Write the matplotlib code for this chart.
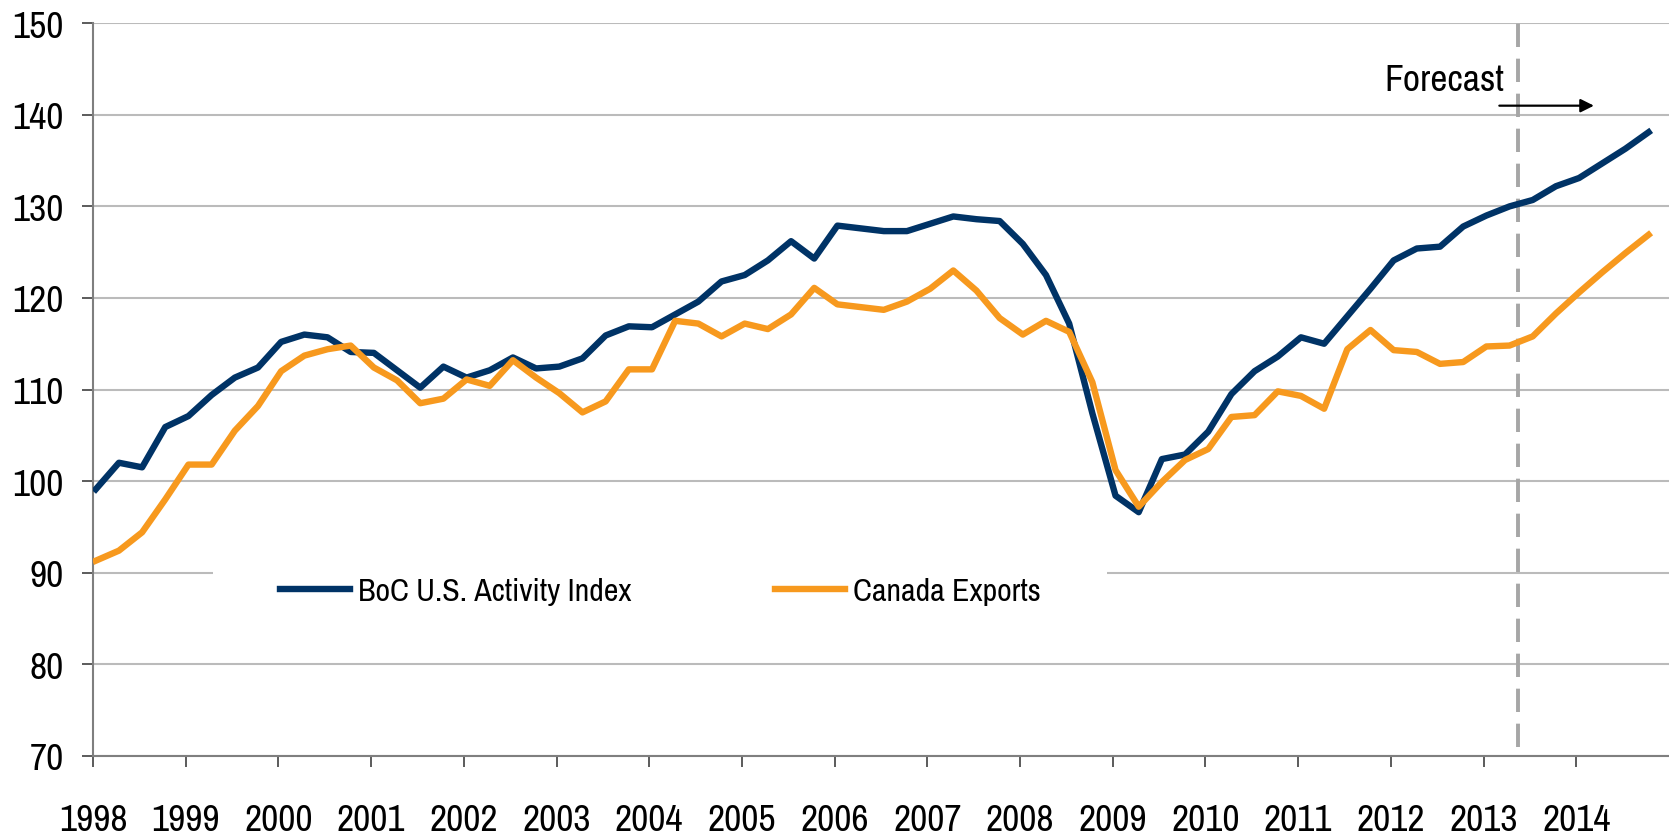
import numpy as np
import matplotlib
matplotlib.use("Agg")
import matplotlib.pyplot as plt
from matplotlib import font_manager
from matplotlib.patches import Rectangle

# quarterly values, 1998Q1 .. 2014Q4
years = list(range(1998, 2015))
boc_us_activity = [
    99.1, 102.0, 101.5, 105.9, 107.1, 109.4, 111.3, 112.4,
    115.2, 116.0, 115.7, 114.1, 114.0, 112.1, 110.2, 112.5,
    111.3, 112.1, 113.5, 112.3, 112.5, 113.4, 115.9, 116.9,
    116.8, 118.2, 119.6, 121.8, 122.5, 124.1, 126.2, 124.3,
    127.9, 127.6, 127.3, 127.3, 128.1, 128.9, 128.6, 128.4,
    125.9, 122.5, 117.2, 107.4, 98.4, 96.6, 102.4, 102.9,
    105.4, 109.5, 112.0, 113.6, 115.7, 115.0, 118.0, 121.0,
    124.1, 125.4, 125.6, 127.8, 129.0, 130.0, 130.7, 132.2,
    133.1, 134.7, 136.3, 138.1,
]
canada_exports = [
    91.3, 92.4, 94.4, 98.0, 101.8, 101.8, 105.5, 108.2,
    112.0, 113.7, 114.4, 114.8, 112.4, 111.0, 108.5, 109.0,
    111.1, 110.4, 113.2, 111.3, 109.6, 107.5, 108.7, 112.2,
    112.2, 117.5, 117.2, 115.8, 117.2, 116.6, 118.2, 121.1,
    119.3, 119.0, 118.7, 119.6, 121.0, 123.0, 120.8, 117.8,
    116.0, 117.5, 116.3, 110.8, 101.2, 97.2, 99.9, 102.3,
    103.5, 107.0, 107.2, 109.8, 109.3, 107.9, 114.4, 116.5,
    114.3, 114.1, 112.8, 113.0, 114.7, 114.8, 115.8, 118.3,
    120.6, 122.8, 124.9, 126.9,
]
forecast_start = 2013.375

# points sit a touch right of the year ticks, like in the original
x = years[0] + 0.03 + np.arange(len(boc_us_activity)) / 4.0

# the original uses a narrow face; take a condensed one if there is any
family, stretch, narrow = "Liberation Sans", "normal", False
for f in font_manager.fontManager.ttflist:
    if "Narrow" in f.name or "Condensed" in f.name:
        family, narrow = f.name, True
        break
else:
    for f in font_manager.fontManager.ttflist:
        if f.name == "DejaVu Sans" and f.stretch in ("condensed", "semi-condensed", 600, 700) \
                and f.weight in ("normal", 400, "regular") and f.style == "normal":
            family, stretch, narrow = "DejaVu Sans", "condensed", True
            break
plt.rcParams["font.family"] = [family, "DejaVu Sans"]
plt.rcParams["font.stretch"] = stretch

big = 27 if narrow else 25
small = 23 if narrow else 21

fig = plt.figure(figsize=(16.69, 8.37), dpi=100)
ax = fig.add_axes([0.0557, 0.0959, 1 - 0.0557, 0.971 - 0.0959])

ax.plot(x, boc_us_activity, color="#003366", lw=4.6, label="BoC U.S. Activity Index", zorder=3)
ax.plot(x, canada_exports, color="#F7991E", lw=4.6, label="Canada Exports", zorder=3)

ax.axvline(forecast_start, ymin=0.012, ymax=1, color="#A6A6A6", lw=2.8, dashes=(6, 3), zorder=2)
ax.annotate("", xy=(2014.22, 141.0), xytext=(2013.14, 141.0),
            arrowprops=dict(arrowstyle="-|>", color="black", lw=1.6, mutation_scale=20))
ax.text(2013.22, 142.75, "Forecast", ha="right", va="baseline", fontsize=big)

ax.set_xlim(1998, 2015)
ax.set_ylim(70, 150)
ax.set_yticks(range(70, 151, 10))
ax.set_xticks(years)
ax.set_xticklabels([str(y) for y in years])
ax.yaxis.grid(True, color="#BBBBBB", lw=1.5)
ax.set_axisbelow(True)

for s in ["top", "right"]:
    ax.spines[s].set_visible(False)
for s in ["left", "bottom"]:
    ax.spines[s].set_color("#7F7F7F")
    ax.spines[s].set_linewidth(1.5)

ax.tick_params(axis="y", length=8, width=1.2, color="#404040", pad=13, labelsize=big)
ax.tick_params(axis="x", length=8, width=1.2, color="#404040", pad=26, labelsize=big)

# white legend area that breaks the 90 gridline
ax.add_patch(Rectangle((1999.29, 86.5), 9.65, 7.0, facecolor="white",
                       edgecolor="none", zorder=1))

leg = ax.legend(loc="center", bbox_to_anchor=(0.36, 0.225), ncol=2, fontsize=small,
                frameon=False, handlelength=2.2, handletextpad=0.25,
                columnspacing=4.5)
leg.set_zorder(4)

fig.savefig("out.png", dpi=100)
